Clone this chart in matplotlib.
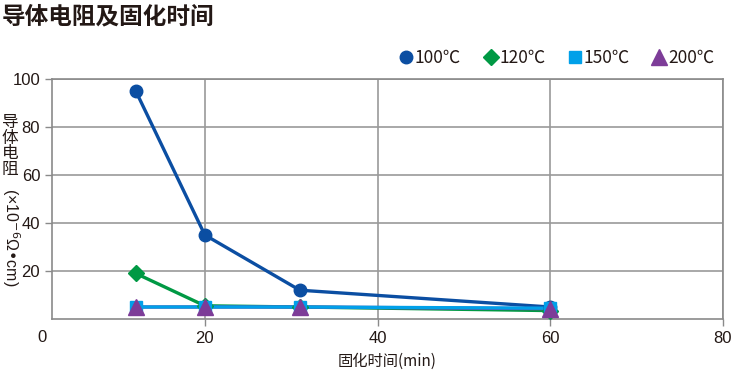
import matplotlib
matplotlib.use("Agg")
import matplotlib.pyplot as plt
from matplotlib.lines import Line2D

plt.rcParams['font.family'] = ['Noto Sans CJK SC', 'DejaVu Sans']

# cure time (min) and resistance (x10^-6 ohm cm)
t = [12, 20, 31, 60]
r_100 = [95, 35, 12, 5]
r_120 = [19, 5.5, 5, 3.5]
r_150 = [5, 5, 5, 4.5]
r_200 = [5, 5, 5, 4.3]

series = [
    ("100℃", r_100, "#0b4ea2", "o"),
    ("120℃", r_120, "#009944", "D"),
    ("150℃", r_150, "#00a0e9", "s"),
    ("200℃", r_200, "#7d3c98", "^"),
]
x_ticks = [20, 40, 60, 80]
y_ticks = [20, 40, 60, 80, 100]

sizes = {"o": 9, "D": 8, "s": 9, "^": 11}
line_z = {"o": 3.0, "D": 3.1, "s": 3.3, "^": 3.2}
num_font = ["Liberation Sans", "DejaVu Sans"]
ink = "#231815"

fig = plt.figure(figsize=(7.37, 3.91), dpi=100)
ax = fig.add_axes([52 / 737, 1 - 319 / 391, 671 / 737, 240 / 391])

for i, (name, vals, col, mk) in enumerate(series):
    ax.plot(t, vals, color=col, lw=2.4, clip_on=False, zorder=line_z[mk])
    ax.plot(t, vals, ls="none", color=col, marker=mk, ms=sizes[mk],
            label=name, clip_on=False, zorder=4 + i * 0.1)

ax.set_xlim(2.3, 80)
ax.set_ylim(0, 100)
ax.set_xticks(x_ticks)
ax.set_yticks(y_ticks)
ax.tick_params(labelsize=12, colors=ink, length=5, width=1, direction="out")
ax.tick_params(axis="both", color="#8a8a8a")
for lab in ax.get_xticklabels() + ax.get_yticklabels():
    lab.set_family(num_font)
ax.grid(True, color="#9a9a9a", lw=1.2)
for s in ax.spines.values():
    s.set_color("#8a8a8a")
    s.set_linewidth(1.2)
ax.text(-0.015, -0.045, "0", transform=ax.transAxes, ha="center", va="top",
        fontsize=12, color=ink, family=num_font)

ax.set_xlabel("固化时间(min)", fontsize=11, color=ink, labelpad=5)

fig.text(10 / 737, 1 - 146 / 391, "导\n体\n电\n阻", ha="center", va="center",
         fontsize=12, color=ink, linespacing=0.92)
fig.text(11 / 737, 1 - 237 / 391, "(×10$^{-6}$Ω•cm)", ha="center", va="center",
         rotation=-90, fontsize=11.5, color=ink, family=num_font)

fig.text(2 / 737, 1 - 16 / 391, "导体电阻及固化时间", ha="left", va="center",
         fontsize=17, fontweight="bold", color=ink)

handles = [Line2D([], [], ls="none", marker=mk, color=col, ms=sizes[mk])
           for _, _, col, mk in series]
fig.legend(handles, [s[0] for s in series], loc="center right",
           bbox_to_anchor=(730 / 737, 1 - 58 / 391), ncol=4, frameon=False,
           fontsize=12.5, handletextpad=0.0, columnspacing=1.2, handlelength=1.0,
           labelcolor=ink)

fig.savefig("out.png", dpi=100)
